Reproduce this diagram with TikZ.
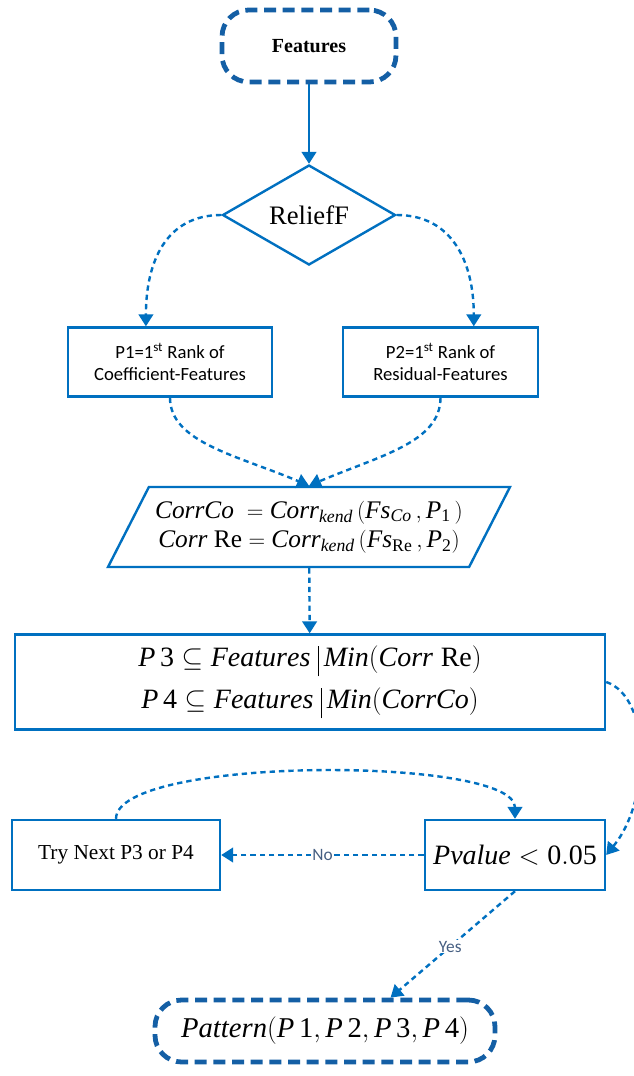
\documentclass[tikz,border=0pt]{standalone}
\usepackage{fontspec}
\setmainfont{Liberation Serif}
\setsansfont{Carlito}
\usepackage{amsmath}
\usetikzlibrary{shapes.geometric}
\usetikzlibrary{arrows.meta}

\definecolor{flowblue}{RGB}{0,112,192}
\definecolor{termblue}{RGB}{20,95,165}
\definecolor{labelgray}{RGB}{70,95,130}

\newcommand{\givenbar}{\;\rule[-7.5pt]{0.8pt}{22.5pt}\,}

\tikzset{
  box/.style={draw=flowblue, line width=1.8pt, fill=white, align=center, inner sep=2pt},
  terminal/.style={draw=termblue, line width=3.6pt, dash pattern=on 9pt off 5pt, rounded corners=20pt, fill=white, align=center},
  decision/.style={diamond, draw=flowblue, line width=1.8pt, aspect=1.73, inner sep=0pt, fill=white},
  iobox/.style={trapezium, trapezium left angle=52, trapezium right angle=128, trapezium stretches body=true, draw=flowblue, line width=1.8pt, inner sep=0pt, align=center, fill=white},
  solidarrow/.style={draw=flowblue, line width=1.8pt, -{Triangle[width=11pt,length=9pt]}},
  dotarrow/.style={draw=flowblue, line width=1.8pt, dash pattern=on 4pt off 3pt, -{Triangle[width=11pt,length=9pt]}},
  edgelabel/.style={font=\sffamily\fontsize{13}{15}\selectfont, text=labelgray, fill=white, inner sep=1pt}
}

\begin{document}
\begin{tikzpicture}[x=0.75pt,y=0.75pt,yscale=-1,xscale=1]
\useasboundingbox (0,0) rectangle (634,1076);

% Terminals
\node [terminal, minimum width=130.5pt, minimum height=54pt, font=\fontsize{15}{18}\selectfont] (feat) at (309,46) {\textbf{Features}};
\node [terminal, minimum width=255pt, minimum height=46.5pt, font=\fontsize{21.5}{26}\selectfont] (pattern) at (325,1031) {$\mathit{Pattern}(\mathit{P}\,\mathrm{1},\mathit{P}\,\mathrm{2},\mathit{P}\,\mathrm{3},\mathit{P}\,\mathrm{4})$};

% Decision
\node [decision, minimum width=129.75pt, minimum height=75pt, font=\fontsize{20}{24}\selectfont] (relief) at (309,215) {ReliefF};

% Rank boxes
\node [box, minimum width=153pt, minimum height=51.75pt, font=\sffamily\fontsize{14}{17}\selectfont] (p1) at (170,362) {P1=1\textsuperscript{st} Rank of\\Coefficient-Features};
\node [box, minimum width=146.25pt, minimum height=51.75pt, font=\sffamily\fontsize{14}{17}\selectfont] (p2) at (440.5,362) {P2=1\textsuperscript{st} Rank of\\Residual-Features};

% Correlation
\node [iobox, minimum width=301.5pt, minimum height=60pt, font=\fontsize{19}{22}\selectfont] (para) at (309,527) {$\mathit{CorrCo}\;=\mathit{Corr}_{\mathit{kend}}\,(\mathit{Fs}_{\mathit{Co}}\,,\mathit{P}_{\mathrm{1}}\,)$\\$\mathit{Corr}\;\mathrm{Re}=\mathit{Corr}_{\mathit{kend}}\,(\mathit{Fs}_{\mathrm{Re}}\,,\mathit{P}_{\mathrm{2}})$};

% Subsets
\node [box, minimum width=442.5pt, minimum height=71.25pt, font=\fontsize{21}{31.5}\selectfont] (big) at (310,682) {$\mathit{P}\,\mathrm{3}\subseteq\mathit{Features}\givenbar\mathit{Min}(\mathit{Corr}\;\mathrm{Re})$\\$\mathit{P}\,\mathrm{4}\subseteq\mathit{Features}\givenbar\mathit{Min}(\mathit{CorrCo})$};

% Test and retry
\node [box, minimum width=135pt, minimum height=52.5pt, font=\fontsize{21}{24}\selectfont] (pval) at (515,855) {$\mathit{Pvalue}<\mathrm{0.05}$};
\node [box, minimum width=156pt, minimum height=52.5pt, font=\fontsize{16}{19}\selectfont] (try) at (116,855) {Try Next P3 or P4};

% Connectors
\draw [solidarrow] (feat) -- (relief);
\draw [dotarrow] (relief.west) .. controls +(-55,0) and +(0,-65) .. (p1.124);
\draw [dotarrow] (relief.east) .. controls +(55,0) and +(0,-65) .. (p2.47);
\draw [dotarrow] (p1.south) .. controls +(0,45) and +(-70,-30) .. (para.north);
\draw [dotarrow] (p2.south) .. controls +(0,45) and +(70,-30) .. (para.north);
\draw [dotarrow] (para) -- (big);
\draw [dotarrow] (big.east) .. controls +(45,15) and +(45,-55) .. (pval.east);
\draw [dotarrow] (pval) -- node [edgelabel] {No} (try);
\draw [dotarrow] (try.north) .. controls +(0,-63) and +(0,-63) .. (pval.north);
\draw [dotarrow] (pval.south) -- node [edgelabel, pos=0.52] {Yes} (pattern.27);

\end{tikzpicture}
\end{document}
